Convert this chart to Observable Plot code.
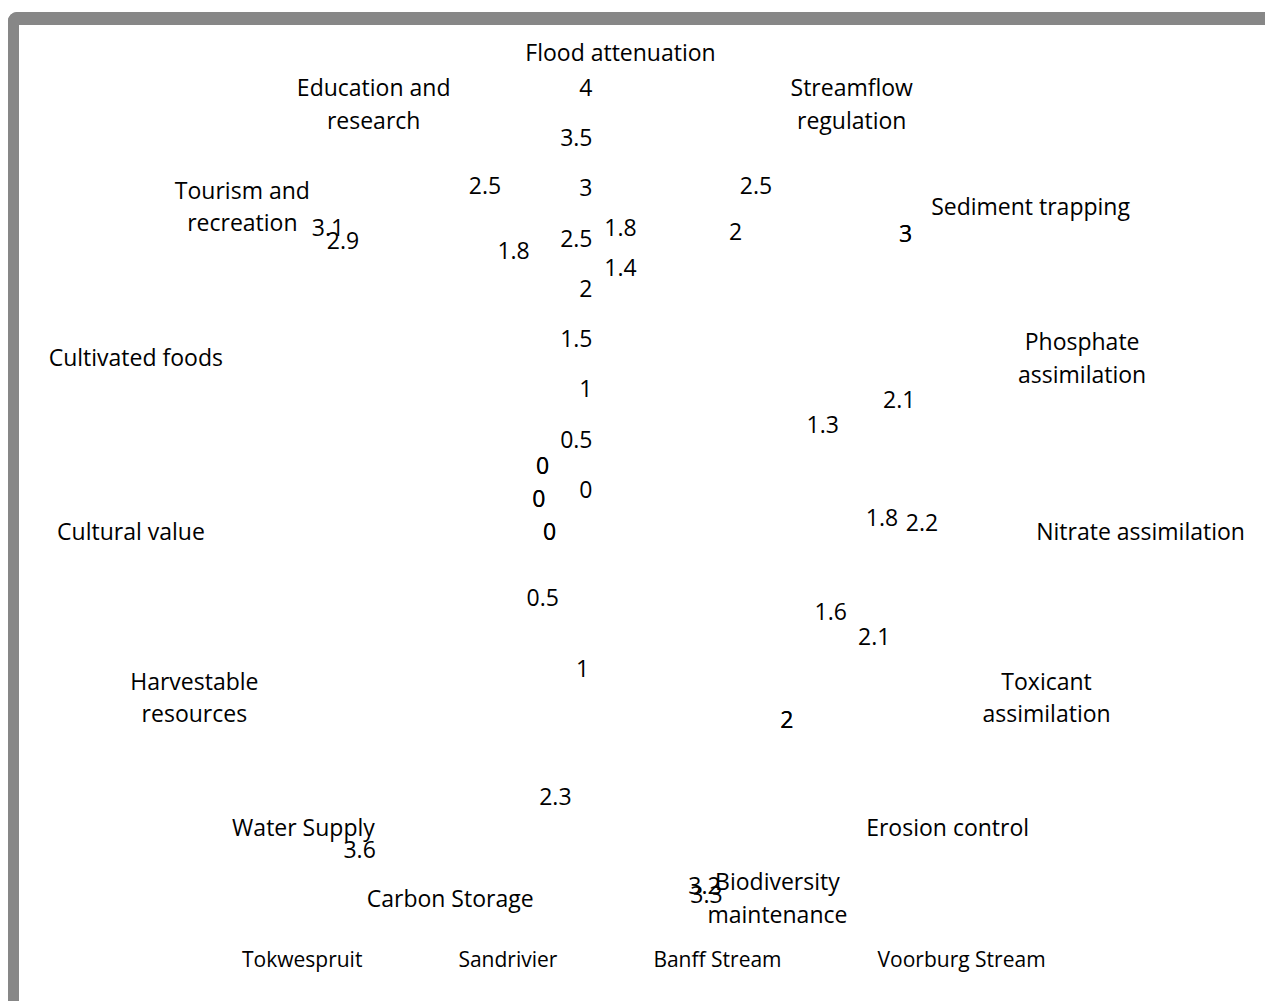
<!DOCTYPE html>
<html>
<head>
<meta charset="utf-8">
<script src="https://cdn.jsdelivr.net/npm/d3@7"></script>
<script src="https://cdn.jsdelivr.net/npm/@observablehq/plot@0.6"></script>
<style>
  html, body { margin: 0; padding: 0; background: #fff; overflow: hidden; }
  #wrap { position: relative; width: 1265px; height: 1001px; overflow: hidden; font-family: 'Open Sans', sans-serif; }
  #frame { position: absolute; left: 8px; top: 12px; width: 1400px; height: 1200px; box-sizing: border-box;
           border-top: 13px solid #878787; border-left: 11px solid #878787; border-radius: 9px 0 0 0;
           pointer-events: none; z-index: 5; }
  #legend { display: flex; gap: 96px; padding-left: 242px; margin-top: 9px; line-height: 30px; font-size: 21px; color: #000; white-space: nowrap; }
</style>
</head>
<body>
<div id="wrap">
  <div id="frame"></div>
  <div id="chart"></div>
  <div id="legend"></div>
</div>
<script>
// ---- Data ----
const categories = [
  "Flood attenuation", "Streamflow regulation", "Sediment trapping", "Phosphate assimilation",
  "Nitrate assimilation", "Toxicant assimilation", "Erosion control", "Biodiversity maintenance",
  "Carbon Storage", "Water Supply", "Harvestable resources", "Cultural value",
  "Cultivated foods", "Tourism and recreation", "Education and research"
];
const categoryLabels = [
  "Flood attenuation", "Streamflow\nregulation", "Sediment trapping", "Phosphate\nassimilation",
  "Nitrate assimilation", "Toxicant\nassimilation", "Erosion control", "Biodiversity\nmaintenance",
  "Carbon Storage", "Water Supply", "Harvestable\nresources", "Cultural value",
  "Cultivated foods", "Tourism and\nrecreation", "Education and\nresearch"
];
const seriesNames = ["Tokwespruit", "Sandrivier", "Banff Stream", "Voorburg Stream"];
const tokwespruit = [1.8, 2.5, 3, 2.1, 2.2, 2.1, 2, 3.3, 2.3, 3.6, 0, 0, 0, 3.1, 2.5];
const sandrivier  = [1.4, 2, 3, 1.3, 1.8, 1.6, 2, 3.2, 1, 0.5, 0, 0, 0, 2.9, 1.8];
const banffStream = [null, null, null, null, null, null, null, null, null, null, null, null, null, null, null];
const voorburgStream = [null, null, null, null, null, null, null, null, null, null, null, null, null, null, null];
const tickValues = [0, 0.5, 1, 1.5, 2, 2.5, 3, 3.5, 4];

// ---- Layout ----
const W = 1265, H = 935;
const CX = 620, CY = 490, K = 100.5;      // centre (px) and px per unit
const FONT = 23;
const LABEL_OFFSET = 82 / K;               // data labels sit outside their point
const CAT_R = 408 / K;                     // category label radius
const GAP = 10;
const n = categories.length;
const angle = i => i * 2 * Math.PI / n;

const ctx = document.createElement("canvas").getContext("2d");
ctx.font = `${FONT}px 'Open Sans'`;
const textWidth = s => d3.max(s.split("\n"), l => ctx.measureText(l).width);

const seriesValues = [tokwespruit, sandrivier, banffStream, voorburgStream];
const dataLabels = [];
seriesValues.forEach((vals, s) => vals.forEach((v, i) => {
  if (v == null) return;
  const r = v + LABEL_OFFSET, a = angle(i);
  dataLabels.push({series: seriesNames[s], category: categories[i], value: v, x: r * Math.sin(a), y: r * Math.cos(a) - 1 / K});
}));

const catData = categoryLabels.map((label, i) => {
  const a = angle(i), s = Math.sin(a), c = Math.cos(a);
  const w = textWidth(label);
  const side = Math.abs(s) < 1e-6 ? 0 : Math.sign(s);
  const dxPx = side * (w / 2 + GAP - 10 * (1 - Math.abs(s)));
  const dyPx = (side === 0 ? c * 27 : c * 12) + 5;
  return {label, x: CAT_R * s + dxPx / K, y: CAT_R * c + dyPx / K};
});

const chart = Plot.plot({
  width: W, height: H, margin: 0,
  x: {domain: [-CX / K, (W - CX) / K], axis: null},
  y: {domain: [-(H - CY) / K, CY / K], axis: null},
  style: {fontFamily: "'Open Sans', sans-serif", background: "transparent", color: "#000"},
  marks: [
    Plot.text(tickValues, {x: () => 0, y: d => d, text: d => String(d), textAnchor: "end", dx: -28, fontSize: FONT, fill: "#000"}),
    Plot.text(catData, {x: "x", y: "y", text: "label", textAnchor: "middle", lineAnchor: "middle", lineHeight: 1.43, fontSize: FONT, fill: "#000"}),
    Plot.text(dataLabels, {x: "x", y: "y", text: d => String(d.value), textAnchor: "middle", lineAnchor: "middle", fontSize: FONT, fill: "#000"})
  ]
});
document.getElementById("chart").appendChild(chart);

const legend = document.getElementById("legend");
seriesNames.forEach(name => {
  const span = document.createElement("span");
  span.textContent = name;
  legend.appendChild(span);
});
</script>
</body>
</html>
